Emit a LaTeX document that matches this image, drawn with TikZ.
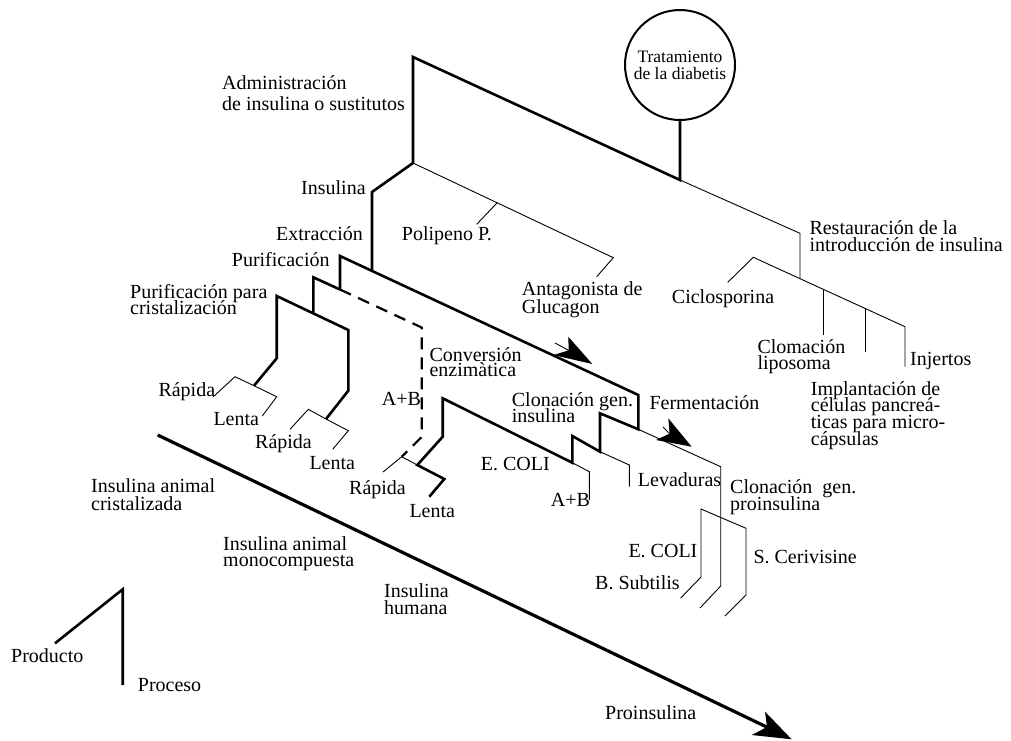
\documentclass[tikz,border=0pt]{standalone}
\usepackage{fontspec}
\setmainfont{Liberation Serif}
\usetikzlibrary{calc}

% stacked text lines with a fixed baseline distance; the block's baseline is its first line
\newcommand\lblock[2]{\vtop{\baselineskip=#1\lineskiplimit=-\maxdimen\halign{##\hfil\cr#2\crcr}}}
\newcommand\cblock[2]{\vtop{\baselineskip=#1\lineskiplimit=-\maxdimen\halign{\hfil##\hfil\cr#2\crcr}}}

\tikzset{
  proc/.style={line width=2.6pt, line join=miter},
  prod/.style={line width=0.9pt},
  conv/.style={line width=2.2pt, dash pattern=on 12pt off 8pt},
  lbl/.style={anchor=base west, inner sep=0pt, font=\fontsize{20}{22}\selectfont},
  head/.style={fill=black},
}

\begin{document}
\begin{tikzpicture}[x=1pt, y=-1pt]
\useasboundingbox (0,0) rectangle (1011,740);

% ---------- root ----------
\node[circle, draw, line width=2pt, minimum size=110pt, inner sep=0pt,
      font=\fontsize{17.5}{17}\selectfont] (root) at (680,65)
      {\cblock{17pt}{Tratamiento\cr de la diabetis}};

% ---------- key points ----------
\coordinate (j0) at (680,180);
\coordinate (admTop) at (413,57);
\coordinate (admBot) at (413,163);
\coordinate (insTop) at (372,192);
\coordinate (insBot) at (372,271);

\coordinate (agEnd) at (613.3,257.7);
\coordinate (agTip) at (596.7,276.7);
\coordinate (pp) at ($(admBot)!0.42!(agEnd)$);
\coordinate (ppTip) at (476.7,224.3);

\coordinate (rsTop) at (800,233.3);
\coordinate (rsBot) at (800,278.6);
\coordinate (cyTop) at (753.3,257.3);
\coordinate (cyTip) at (727.7,282.3);
\coordinate (injTop) at (905,326.7);
\coordinate (injBot) at (905,366.7);
\coordinate (lpTop) at (823.3,289.4);
\coordinate (lpBot) at (823.3,335);
\coordinate (ipTop) at (865,308.4);
\coordinate (ipBot) at (865,351.7);

\coordinate (puTop) at (340,256);
\coordinate (puBot) at (340,289.5);
\coordinate (puEnd) at (638.3,395);
\coordinate (fe) at (638.3,429.3);
\coordinate (s3) at (600,413.3);
\coordinate (s2) at (600,451.7);
\coordinate (s1) at (572.3,436);
\coordinate (ecEnd) at (572.3,462.7);
\coordinate (hTop) at (442.7,398.3);
\coordinate (hMid) at (442.7,436.7);
\coordinate (hFork) at (417.3,465);
\coordinate (hLen) at (444.3,479);
\coordinate (hLenEnd) at (429.3,496.7);
\coordinate (hRap) at (401.7,456.7);
\coordinate (hRapEnd) at (383,472);

\coordinate (mpTop) at (313.3,277.3);
\coordinate (mpBot) at (313.3,313.2);
\coordinate (cvTop) at (421.7,327.5);
\coordinate (cvBot) at (421.7,437);

\coordinate (crTop) at (276.7,296);
\coordinate (crMid) at (276.7,358.3);
\coordinate (crFork) at (254,385.7);
\coordinate (crEnd) at (348.3,330);
\coordinate (c2Mid) at (348.3,390.7);
\coordinate (c2Fork) at (326,419);

% ---------- process lines (thick) ----------
\draw[proc] (root) -- (j0) -- (admTop) -- (admBot) -- (insTop) -- (insBot);
\draw[proc] (puBot) -- (puTop) -- (puEnd) -- (fe) -- (s3) -- (s2) -- (s1)
            -- (ecEnd) -- (hTop) -- (hMid) -- (hFork) -- (hLen) -- (hLenEnd);
\draw[proc] (mpBot) -- (mpTop) -- (puBot);
\draw[proc] (crFork) -- (crMid) -- (crTop) -- (crEnd) -- (c2Mid) -- (c2Fork);
\draw[conv] (puBot) -- (cvTop) -- (cvBot) -- (hRap);

% ---------- product lines (thin) ----------
\draw[prod] (admBot) -- (agEnd) -- (agTip);
\draw[prod] (pp) -- (ppTip);
\draw[prod] (j0) -- (rsTop) -- (rsBot);
\draw[prod] (cyTip) -- (cyTop) -- (injTop) -- (injBot);
\draw[prod] (lpTop) -- (lpBot);
\draw[prod] (ipTop) -- (ipBot);

\draw[prod] (crFork) -- (235,376.7) -- (213.3,396.7);
\draw[prod] (crFork) -- (276.7,396.7) -- (262.3,416);
\draw[prod] (c2Fork) -- (308.3,409.3) -- (290,429.3);
\draw[prod] (c2Fork) -- (348.3,430.7) -- (332.7,449.3);
\draw[prod] (hFork) -- (hRap) -- (hRapEnd);

\draw[prod] (ecEnd) -- (589.3,471.7) -- (589.3,500);
\draw[prod] (s2) -- (629.3,465) -- (629.3,486.7);
\draw[prod] (fe) -- (720.7,466.7) -- (720.7,586) -- (700,608);
\draw[prod] (680.7,598) -- (701,577) -- (701,509) -- (746,528.3) -- (746,595) -- (725,616);

% ---------- direction arrows ----------
\coordinate (a1tip) at (592.3,364);
\coordinate (a1in) at (568.7,350.4);
\draw[prod] (555,343) -- (a1in);
\fill[head] (a1tip) -- (568.3,336.7) -- (a1in) -- (553.3,355) -- cycle;

\coordinate (a2tip) at (691.7,446.7);
\coordinate (a2in) at (669.6,433.6);
\draw[prod] (663,427) -- (a2in);
\fill[head] (a2tip) -- (668.3,418.3) -- (a2in) -- (656,440) -- cycle;

\coordinate (pStart) at (157.7,435);
\coordinate (pTip) at (791.7,739.3);
\coordinate (pIn) at (767,727);
\draw[line width=3.2pt] (pStart) -- ($(pIn)!0.3!(pTip)$);
\fill[head] (pTip) -- (765,711.7) -- (pIn) -- (751.7,735) -- cycle;

% ---------- legend ----------
\coordinate (legA) at (55,643.3);
\coordinate (legB) at (122.7,589.3);
\coordinate (legC) at (122.7,685);
\draw[proc] (legA) -- (legB) -- (legC);

% ---------- labels ----------
\node[lbl] (tAdm) at (222,89.3) {\lblock{21pt}{Administración\cr de insulina o sustitutos}};
\node[lbl] (tIns) at (301,194) {Insulina};
\node[lbl] (tExt) at (276,240.7) {Extracción};
\node[lbl] (tPur) at (231.7,266) {Purificación};
\node[lbl] (tPpc) at (130,298.3) {\lblock{15.7pt}{Purificación para\cr cristalización}};
\node[lbl] (tPol) at (401.7,240.7) {Polipeno P.};
\node[lbl] (tAnt) at (521.7,295) {\lblock{18pt}{Antagonista de\cr Glucagon}};
\node[lbl] (tRes) at (809.3,234.3) {\lblock{16.7pt}{Restauración de la\cr introducción de insulina}};
\node[lbl] (tCic) at (671.7,303.3) {Ciclosporina};
\node[lbl] (tLip) at (757.3,353.3) {\lblock{16.3pt}{Clomación\cr liposoma}};
\node[lbl] (tInj) at (910,365) {Injertos};
\node[lbl] (tImp) at (810.7,395) {\lblock{16.7pt}{Implantación de\cr células pancreá-\cr ticas para micro-\cr cápsulas}};
\node[lbl] (tFer) at (649.3,409.3) {Fermentación};
\node[lbl] (tCgi) at (511.7,406) {\lblock{16.7pt}{Clonación gen.\cr insulina}};
\node[lbl] (tCon) at (429.3,361.7) {\lblock{15pt}{Conversión\cr enzimàtica}};
\node[lbl] (tAB1) at (381.7,405) {A+B};
\node[lbl] (tEc1) at (480.7,470.7) {E. COLI};
\node[lbl] (tAB2) at (550.7,506.7) {A+B};
\node[lbl] (tLev) at (637.7,486.7) {Levaduras};
\node[lbl] (tCgp) at (730,493.3) {\lblock{16.7pt}{Clonación\ \ gen.\cr proinsulina}};
\node[lbl] (tEc2) at (628.3,557.7) {E. COLI};
\node[lbl] (tBsu) at (595,589) {B. Subtilis};
\node[lbl] (tSce) at (753.3,563.3) {S. Cerivisine};
\node[lbl] (tR1) at (158.3,396.7) {Rápida};
\node[lbl] (tL1) at (213.3,425) {Lenta};
\node[lbl] (tR2) at (255,448.3) {Rápida};
\node[lbl] (tL2) at (309.3,469.3) {Lenta};
\node[lbl] (tR3) at (349,494) {Rápida};
\node[lbl] (tL3) at (409.3,517.3) {Lenta};
\node[lbl] (tIac) at (91,492.7) {\lblock{18pt}{Insulina animal\cr cristalizada}};
\node[lbl] (tIam) at (223,550.7) {\lblock{16pt}{Insulina animal\cr monocompuesta}};
\node[lbl] (tIhu) at (384,597.3) {\lblock{16.7pt}{Insulina\cr humana}};
\node[lbl] (tPro) at (11,662.7) {Producto};
\node[lbl] (tPrc) at (137.7,691.7) {Proceso};
\node[lbl] (tPin) at (605,719.3) {Proinsulina};
\end{tikzpicture}
\end{document}
